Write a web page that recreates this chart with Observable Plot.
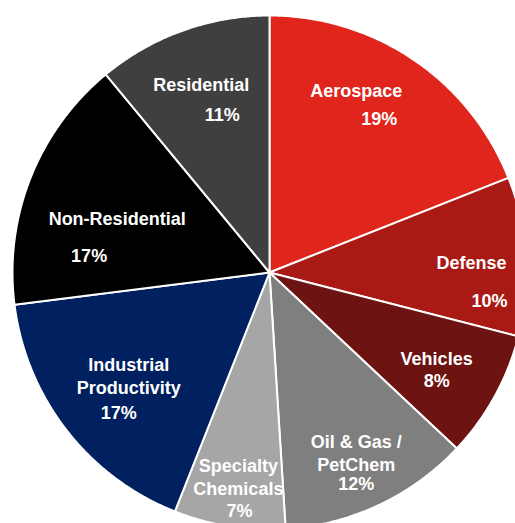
<!DOCTYPE html>
<html>
<head>
<meta charset="utf-8">
<script src="https://cdn.jsdelivr.net/npm/d3@7"></script>
<script src="https://cdn.jsdelivr.net/npm/@observablehq/plot@0.6"></script>
<style>
  html, body { margin: 0; padding: 0; background: #fff; overflow: hidden; }
</style>
</head>
<body>
<div id="chart"></div>
<script>
// ---- data ----
const categories = ["Aerospace", "Defense", "Vehicles", "Oil & Gas /\nPetChem", "Specialty\nChemicals", "Industrial\nProductivity", "Non-Residential", "Residential"];
// slice sizes
const shares = [19, 10, 8, 12, 7, 17, 16, 11];
// percentages as printed on the labels
const pctLabels = ["19%", "10%", "8%", "12%", "7%", "17%", "17%", "11%"];
const colors = ["#df251c", "#a91a15", "#6d1311", "#7f7f7f", "#a6a6a6", "#002060", "#000000", "#3f3f3f"];

// ---- label nudges (pixels, relative to slice centroid at 0.6 radius) ----
const nameNudge = [[0, -55], [48, -1], [32, 11], [21, 40], [-7, 51], [-19, 8], [-9, 2], [-16, -44]];
const pctNudge = [[23, -26], [66, 38], [32, 34], [21, 72], [-6, 86], [-29, 46], [-37, 40], [5, -12]];

// ---- layout ----
const W = 515, H = 523;
const cx = 269, cy = 272, R = 257; // pixel centre / radius

const pie = d3.pie().sort(null).value(d => d)(shares);

// slice outlines in unit-circle coordinates (angle measured clockwise from north)
const slicePts = [];
pie.forEach((p, i) => {
  const n = Math.max(2, Math.ceil((p.endAngle - p.startAngle) / (Math.PI / 360)));
  slicePts.push({cat: categories[i], x: 0, y: 0});
  for (let k = 0; k <= n; k++) {
    const a = p.startAngle + (p.endAngle - p.startAngle) * k / n;
    slicePts.push({cat: categories[i], x: Math.sin(a), y: Math.cos(a)});
  }
  slicePts.push({cat: categories[i], x: 0, y: 0});
});

const labels = pie.map((p, i) => {
  const a = (p.startAngle + p.endAngle) / 2;
  const ax = 0.6 * Math.sin(a), ay = 0.6 * Math.cos(a);
  return {
    name: categories[i],
    pct: pctLabels[i],
    nx: ax + nameNudge[i][0] / R,
    ny: ay - nameNudge[i][1] / R,
    px: ax + pctNudge[i][0] / R,
    py: ay - pctNudge[i][1] / R
  };
});

const chart = Plot.plot({
  width: W,
  height: H,
  margin: 0,
  style: {background: "#fff", fontFamily: "'Liberation Sans', Arial, sans-serif"},
  x: {domain: [-cx / R, (W - cx) / R], axis: null},
  y: {domain: [-(H - cy) / R, cy / R], axis: null},
  color: {domain: categories, range: colors},
  marks: [
    Plot.line(slicePts, {x: "x", y: "y", z: "cat", fill: "cat", stroke: "#fff", strokeWidth: 2, strokeLinejoin: "round", clip: true}),
    Plot.text(labels, {x: "nx", y: "ny", text: "name", fill: "#fff", fontSize: 18, fontWeight: "bold", lineHeight: 1.3, lineAnchor: "middle", textAnchor: "middle"}),
    Plot.text(labels, {x: "px", y: "py", text: "pct", fill: "#fff", fontSize: 18, fontWeight: "bold", lineAnchor: "middle", textAnchor: "middle"})
  ]
});
document.getElementById("chart").appendChild(chart);
</script>
</body>
</html>
